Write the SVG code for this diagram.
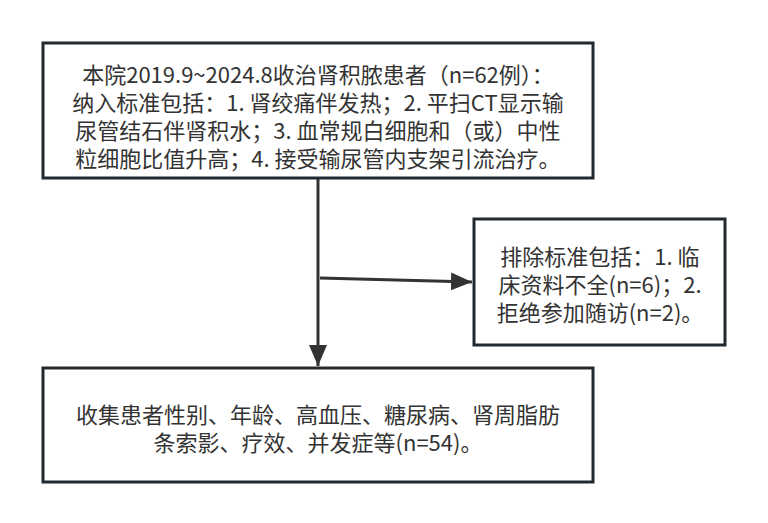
<svg xmlns="http://www.w3.org/2000/svg" width="768" height="523" viewBox="0 0 768 523">
<style>
.box{fill:#ffffff;stroke:#222a30;stroke-width:3}
.t{font-family:"Noto Sans CJK SC","Noto Sans",sans-serif;font-size:22px;fill:#333333;text-anchor:middle;dominant-baseline:central}
.c{fill:none;stroke:#333333;stroke-width:3}
</style>
<defs>
<marker id="ah" markerUnits="userSpaceOnUse" markerWidth="22" markerHeight="18" refX="21" refY="9" orient="auto">
<path d="M0,0 L21,9 L0,18 Z" fill="#333333"/>
</marker>
</defs>
<rect width="768" height="523" fill="#ffffff"/>
<g id="connectors">
<path class="c" d="M318,179 L318,366" marker-end="url(#ah)"/>
<path class="c" d="M320,278 L472,282" marker-end="url(#ah)"/>
</g>
<g id="node-inclusion">
<rect class="box" x="43" y="43" width="550" height="135"/>
<text class="t" x="318" y="73">本院2019.9~2024.8收治肾积脓患者（n=62例）：</text>
<text class="t" x="318" y="101">纳入标准包括：1. 肾绞痛伴发热；2. 平扫CT显示输</text>
<text class="t" x="318" y="129">尿管结石伴肾积水；3. 血常规白细胞和（或）中性</text>
<text class="t" x="318" y="157">粒细胞比值升高；4. 接受输尿管内支架引流治疗。</text>
</g>
<g id="node-exclusion">
<rect class="box" x="474" y="219" width="251" height="126"/>
<text class="t" x="600" y="255">排除标准包括：1. 临</text>
<text class="t" x="600" y="283">床资料不全(n=6)；2.</text>
<text class="t" x="600" y="311">拒绝参加随访(n=2)。</text>
</g>
<g id="node-collect">
<rect class="box" x="43" y="368" width="550" height="114"/>
<text class="t" x="318" y="413">收集患者性别、年龄、高血压、糖尿病、肾周脂肪</text>
<text class="t" x="318" y="441">条索影、疗效、并发症等(n=54)。</text>
</g>
</svg>
